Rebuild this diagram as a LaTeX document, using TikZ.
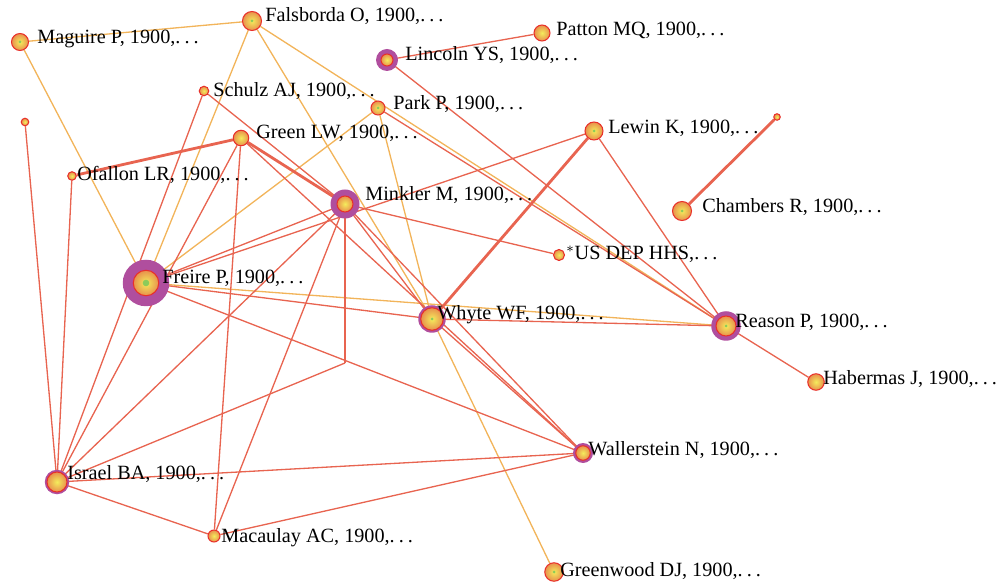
\documentclass[tikz,border=0pt]{standalone}
\usepackage{fontspec}
\setmainfont{Liberation Serif}
\usepackage{tikz}
\usetikzlibrary{backgrounds}
\definecolor{edgered}{HTML}{E86450}
\definecolor{edgeorange}{HTML}{F2B45A}
\definecolor{halopurple}{HTML}{B04E9E}
\definecolor{ballrim}{HTML}{E8302A}
\definecolor{ballin}{HTML}{F4EC5C}
\definecolor{ballout}{HTML}{E8904C}
\definecolor{dotgreen}{HTML}{8CCB5A}
\newcommand{\etcdots}{.\kern0.2em.\kern0.2em.}
\tikzset{
	ball/.style={circle, draw=ballrim, line width=0.6pt, inner sep=0pt, shading=radial, inner color=ballin, outer color=ballout}
}
\tikzset{
	halo/.style={circle, fill=halopurple, inner sep=0pt}
}
\tikzset{
	tag/.style={anchor=base west, inner sep=0pt, font=\fontsize{11.5}{13}\selectfont}
}
\tikzset{
	redlink/.style={draw=edgered, line width=0.75pt},
	orlink/.style={draw=edgeorange, line width=0.75pt},
	fatlink/.style={draw=edgered, line width=1.6pt}
}

\begin{document}
\begin{tikzpicture}[x=0.2mm,y=-0.2mm]
			\useasboundingbox (0,0) rectangle (999,583);
			% purple halos
			\node[halo, minimum size=4.4mm] (lincoln-h) at (387,60) {};
			\node[halo, minimum size=5.8mm] (minkler-h) at (345,204) {};
			\node[halo, minimum size=9.3mm] (freire-h) at (146,283) {};
			\node[halo, minimum size=5.5mm] (whyte-h) at (432,319) {};
			\node[halo, minimum size=5.9mm] (reason-h) at (726,326) {};
			\node[halo, minimum size=4.9mm] (israel-h) at (57,482) {};
			\node[halo, minimum size=4.0mm] (wallerstein-h) at (583,453) {};
			% cited references
			\node[ball, minimum size=3.4mm] (maguire) at (20,42) {};
			\node[ball, minimum size=3.8mm] (falsborda) at (252,21) {};
			\node[ball, minimum size=1.9mm] (schulz) at (204,91) {};
			\node[ball, minimum size=3.1mm] (green) at (241,138) {};
			\node[ball, minimum size=1.7mm] (ofallon) at (72,176) {};
			\node[ball, minimum size=1.5mm] (loneleft) at (25,122) {};
			\node[ball, minimum size=2.8mm] (park) at (378,108) {};
			\node[ball, minimum size=2.4mm] (lincoln) at (387,60) {};
			\node[ball, minimum size=3.2mm] (patton) at (542,33) {};
			\node[ball, minimum size=3.2mm] (minkler) at (345,204) {};
			\node[ball, minimum size=3.6mm] (lewin) at (594,131) {};
			\node[ball, minimum size=1.3mm] (loneright) at (777,117) {};
			\node[ball, minimum size=3.8mm] (chambers) at (682,211) {};
			\node[ball, minimum size=2.2mm] (usdep) at (559,255) {};
			\node[ball, minimum size=5.1mm] (freire) at (146,283) {};
			\node[ball, minimum size=4.5mm] (whyte) at (432,319) {};
			\node[ball, minimum size=4.0mm] (reason) at (726,326) {};
			\node[ball, minimum size=3.3mm] (habermas) at (816,382) {};
			\node[ball, minimum size=4.0mm] (israel) at (57,482) {};
			\node[ball, minimum size=2.9mm] (wallerstein) at (583,453) {};
			\node[ball, minimum size=2.4mm] (macaulay) at (214,536) {};
			\node[ball, minimum size=3.7mm] (greenwood) at (554,572) {};
			\coordinate (kink) at (345,363);
			% green centres
			\fill[dotgreen] (freire) circle (0.66mm);
			\foreach \n in {maguire,falsborda,park,lewin,chambers,reason,whyte,greenwood}
				\fill[dotgreen] (\n) circle (0.3mm);
			% labels
			\node[tag] (maguire-t) at (37,44) {Maguire P, 1900,\etcdots};
			\node[tag] (falsborda-t) at (265,22) {Falsborda O, 1900,\etcdots};
			\node[tag] (schulz-t) at (213,97) {Schulz AJ, 1900,\etcdots};
			\node[tag] (park-t) at (393,110) {Park P, 1900,\etcdots};
			\node[tag] (lincoln-t) at (405,61) {Lincoln YS, 1900,\etcdots};
			\node[tag] (patton-t) at (556,36) {Patton MQ, 1900,\etcdots};
			\node[tag] (green-t) at (256,139) {Green LW, 1900,\etcdots};
			\node[tag] (ofallon-t) at (77,181) {Ofallon LR, 1900,\etcdots};
			\node[tag] (lewin-t) at (608,134) {Lewin K, 1900,\etcdots};
			\node[tag] (chambers-t) at (702,213) {Chambers R, 1900,\etcdots};
			\node[tag] (minkler-t) at (365,201) {Minkler M, 1900,\etcdots};
			\node[tag] (usdep-t) at (566,260) {$^{*}$US DEP HHS,\etcdots};
			\node[tag] (freire-t) at (162,284) {Freire P, 1900,\etcdots};
			\node[tag] (whyte-t) at (437,320) {Whyte WF, 1900,\etcdots};
			\node[tag] (reason-t) at (735,328) {Reason P, 1900,\etcdots};
			\node[tag] (habermas-t) at (823,385) {Habermas J, 1900,\etcdots};
			\node[tag] (israel-t) at (67,479) {Israel BA, 1900,\etcdots};
			\node[tag] (wallerstein-t) at (588,455) {Wallerstein N, 1900,\etcdots};
			\node[tag] (macaulay-t) at (221,542) {Macaulay AC, 1900,\etcdots};
			\node[tag] (greenwood-t) at (560,576) {Greenwood DJ, 1900,\etcdots};
			% co-citation links
			\begin{scope}[on background layer]
				\draw[orlink] (maguire) -- (falsborda);
				\draw[orlink] (maguire) -- (freire);
				\draw[orlink] (falsborda) -- (freire);
				\draw[orlink] (falsborda) -- (whyte);
				\draw[orlink] (falsborda) -- (reason);
				\draw[orlink] (park) -- (freire);
				\draw[orlink] (park) -- (whyte);
				\draw[orlink] (freire) -- (reason);
				\draw[orlink] (whyte) -- (greenwood);
				\draw[redlink] (lincoln) -- (patton);
				\draw[redlink] (lincoln) -- (reason);
				\draw[redlink] (park) -- (reason);
				\draw[redlink] (lewin) -- (reason);
				\draw[redlink] (lewin) -- (freire);
				\draw[redlink] (whyte) -- (reason);
				\draw[redlink] (reason) -- (habermas);
				\draw[redlink] (freire) -- (whyte);
				\draw[redlink] (freire) -- (minkler);
				\draw[redlink] (freire) -- (wallerstein);
				\draw[redlink] (minkler) -- (usdep);
				\draw[redlink] (minkler) -- (whyte);
				\draw[redlink] (minkler) -- (wallerstein);
				\draw[redlink] (minkler) -- (macaulay);
				\draw[redlink] (minkler) -- (israel);
				\draw[redlink] (schulz) -- (minkler);
				\draw[redlink] (schulz) -- (israel);
				\draw[redlink] (green) -- (israel);
				\draw[redlink] (green) -- (macaulay);
				\draw[redlink] (green) -- (wallerstein);
				\draw[redlink] (whyte) -- (wallerstein);
				\draw[redlink] (israel) -- (wallerstein);
				\draw[redlink] (israel) -- (macaulay);
				\draw[redlink] (macaulay) -- (wallerstein);
				\draw[redlink] (israel) -- (ofallon);
				\draw[redlink] (israel) -- (loneleft);
				\draw[redlink] (kink) -- (israel);
				\draw[fatlink] (green) -- (ofallon);
				\draw[fatlink] (green) -- (minkler);
				\draw[fatlink] (lewin) -- (whyte);
				\draw[fatlink] (chambers) -- (loneright);
				\draw[fatlink] (minkler) -- (kink);
			\end{scope}
		\end{tikzpicture}
\end{document}
